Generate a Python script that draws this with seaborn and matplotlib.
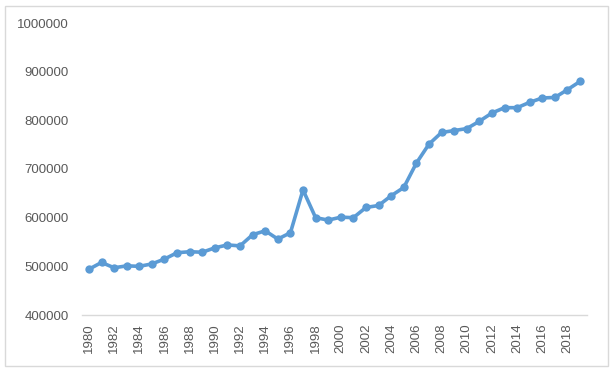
import matplotlib
matplotlib.use("Agg")
import matplotlib.pyplot as plt
from matplotlib.patches import Rectangle
import seaborn as sns
import pandas as pd

years = list(range(1980, 2020))
values = [
    494000, 508000, 497000, 501000, 500000, 505000, 515000, 528000, 530000, 529000,
    538000, 544000, 542000, 565000, 573000, 556000, 569000, 657000, 600000, 595000,
    601000, 600000, 621000, 625000, 645000, 662000, 712000, 751000, 775000, 779000,
    783000, 798000, 815000, 826000, 826000, 837000, 846000, 847000, 863000, 880000,
]
y_ticks = [400000, 500000, 600000, 700000, 800000, 900000, 1000000]
x_ticks = years[::2]

df = pd.DataFrame({"year": years, "value": values})

sns.set_theme(style="white")
plt.rcParams["font.family"] = ["Liberation Sans", "DejaVu Sans"]

fig = plt.figure(figsize=(6.13, 3.73), dpi=100)
ax = fig.add_axes([82 / 613, 1 - 315 / 373, (587 - 82) / 613, (315 - 23) / 373])

sns.lineplot(data=df, x="year", y="value", ax=ax, color="#5B9BD5",
             linewidth=2.6, marker="o", markersize=6, markeredgewidth=0)

ax.set_xlim(1979.45, 2019.55)
ax.set_ylim(400000, 1000000)
ax.set_yticks(y_ticks)
ax.set_yticklabels([str(v) for v in y_ticks])
ax.set_xticks(x_ticks)
ax.set_xticklabels([str(x) for x in x_ticks], rotation=90)
ax.tick_params(axis="both", length=0, labelsize=9.5, labelcolor="#595959")
ax.tick_params(axis="y", pad=9.5)
ax.tick_params(axis="x", pad=6)
ax.set_xlabel("")
ax.set_ylabel("")

for side in ["top", "right", "left"]:
    ax.spines[side].set_visible(False)
ax.spines["bottom"].set_color("#D9D9D9")
ax.spines["bottom"].set_linewidth(1)

fig.patches.append(Rectangle((5 / 613, 1 - 366 / 373), 603 / 613, 360 / 373,
                             transform=fig.transFigure, fill=False,
                             edgecolor="#D9D9D9", linewidth=1))

fig.savefig("out.png", dpi=100)
plt.close(fig)
